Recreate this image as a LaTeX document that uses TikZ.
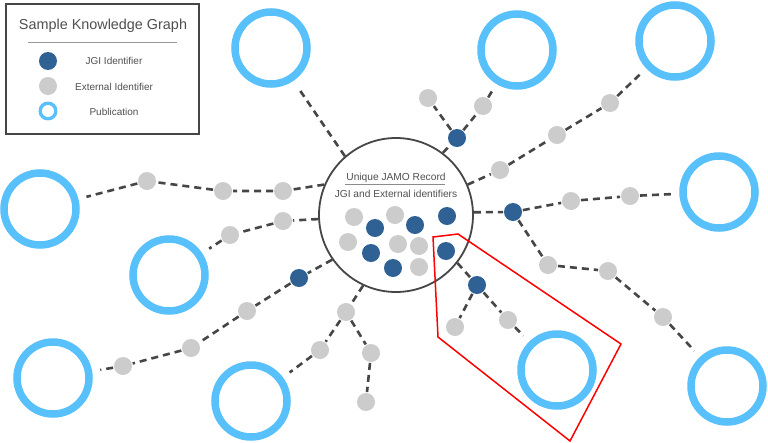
\documentclass[tikz,border=0pt]{standalone}
\usepackage{fontspec}
\setmainfont{Liberation Sans}
\definecolor{pub}{RGB}{88,192,250}
\definecolor{jgi}{RGB}{47,97,148}
\definecolor{ext}{RGB}{204,204,204}
\definecolor{lnk}{RGB}{70,70,70}
\definecolor{txt}{RGB}{80,80,80}
\tikzset{
 jgidot/.style={circle,fill=jgi,minimum size=18pt,inner sep=0pt,outer sep=1pt},
 extdot/.style={circle,fill=ext,minimum size=18pt,inner sep=0pt,outer sep=1pt},
 pubring/.style={circle,draw=pub,line width=7.5pt,minimum size=72pt,inner sep=0pt,outer sep=12pt},
 link/.style={draw=lnk,line width=2.6pt,dash pattern=on 7pt off 5pt},
 lbl/.style={text=txt,font=\fontsize{10}{12}\selectfont,inner sep=0pt},
}
\begin{document}
\begin{tikzpicture}[x=1pt,y=-1pt]
\useasboundingbox[fill=white] (0,0) rectangle (768,442);
% legend
\node[draw=lnk,line width=2pt,minimum width=193pt,minimum height=130pt,inner sep=0pt] (legend) at (102.5,69) {};
\node[text=txt,font=\fontsize{14.4}{16}\selectfont,inner sep=0pt] (ltitle) at (103,26) {Sample Knowledge Graph};
\draw[draw=black!40,line width=1pt] (28,42) -- (177,42);
\node[jgidot,minimum size=18pt] (lj) at (48,61) {};
\node[lbl] (ljt) at (114,61) {JGI Identifier};
\node[extdot,minimum size=18pt] (le) at (48,86) {};
\node[lbl] (let) at (114,87) {External Identifier};
\node[circle,draw=pub,line width=3.3pt,minimum size=15.6pt,inner sep=0pt] (lp) at (48,111) {};
\node[lbl] (lpt) at (114,112) {Publication};
% central record
\node[circle,draw=lnk,line width=1.8pt,minimum size=154pt,inner sep=0pt] (rec) at (396,215) {};
\node[text=txt,font=\fontsize{10.2}{12}\selectfont,inner sep=0pt] (rt1) at (396,178) {Unique JAMO Record};
\draw[draw=black!45,line width=0.8pt] (345,184.5) -- (445,184.5);
\node[text=txt,font=\fontsize{10.2}{12}\selectfont,inner sep=0pt] (rt2) at (396,194) {JGI and External identifiers};
% inner dots
\node[extdot] (i1) at (354,217) {};
\node[jgidot] (i2) at (375,228) {};
\node[extdot] (i3) at (395,215) {};
\node[jgidot] (i4) at (415,225) {};
\node[jgidot] (i5) at (447,216) {};
\node[extdot] (i6) at (348,242) {};
\node[jgidot] (i7) at (371,253) {};
\node[extdot] (i8) at (398,244) {};
\node[extdot] (i9) at (419,246) {};
\node[jgidot] (i10) at (446,251) {};
\node[jgidot] (i11) at (393,268) {};
\node[extdot] (i12) at (419,267) {};
% publications
\node[pubring] (p1) at (271,48) {};
\node[pubring] (p2) at (517,50) {};
\node[pubring] (p3) at (675,41) {};
\node[pubring] (p4) at (719,192) {};
\node[pubring] (p5) at (727,386) {};
\node[pubring] (p6) at (557,370) {};
\node[pubring] (p7) at (251,401) {};
\node[pubring] (p8) at (53,378) {};
\node[pubring] (p9) at (169,275) {};
\node[pubring] (p10) at (40,209) {};
% chain nodes
\node[jgidot] (b1) at (457,138) {};
\node[extdot] (b2) at (428,98) {};
\node[extdot] (b3) at (483,106) {};
\node[extdot] (c1) at (500,170) {};
\node[extdot] (c2) at (557,135) {};
\node[extdot] (c3) at (610,103) {};
\node[jgidot] (d1) at (513,212) {};
\node[extdot] (d2) at (571,201) {};
\node[extdot] (d3) at (630,196) {};
\node[extdot] (d4) at (548,265) {};
\node[extdot] (d5) at (608,271) {};
\node[extdot] (d6) at (663,317) {};
\node[jgidot] (e1) at (477,285) {};
\node[extdot] (e2) at (455,327) {};
\node[extdot] (e3) at (508,320) {};
\node[jgidot] (f1) at (299,278) {};
\node[extdot] (f2) at (247,311) {};
\node[extdot] (f3) at (191,348) {};
\node[extdot] (f4) at (123,366) {};
\node[extdot] (g1) at (346,312) {};
\node[extdot] (g2) at (320,350) {};
\node[extdot] (g3) at (371,353) {};
\node[extdot] (g4) at (366,402) {};
\node[extdot] (h1) at (283,191) {};
\node[extdot] (h2) at (223,191) {};
\node[extdot] (h3) at (147,181) {};
\node[extdot] (k1) at (283,221) {};
\node[extdot] (k2) at (230,235) {};
% links
\draw[link] (rec.131) -- (p1);
\draw[link] (rec.53) -- (b1) -- (b2);
\draw[link] (b1) -- (b3) -- (p2);
\draw[link] (rec.23) -- (c1) -- (c2) -- (c3) -- (p3);
\draw[link] (rec.2) -- (d1) -- (d2) -- (d3) -- (p4);
\draw[link] (d1) -- (d4) -- (d5) -- (d6) -- (p5);
\draw[link] (rec.-38) -- (e1) -- (e2);
\draw[link] (e1) -- (e3) -- (p6);
\draw[link] (rec.215) -- (f1) -- (f2) -- (f3) -- (f4) -- (p8);
\draw[link] (rec.-115) -- (g1) -- (g2) -- (p7);
\draw[link] (g1) -- (g3) -- (g4);
\draw[link] (rec.157) -- (h1) -- (h2) -- (h3) -- (p10);
\draw[link] (rec.183) -- (k1) -- (k2) -- (p9);
% highlight
\draw[red,line width=1.5pt,line join=miter] (433,237) -- (458,234) -- (621,344) -- (570,441) -- (438,337) -- cycle;
\end{tikzpicture}
\end{document}
